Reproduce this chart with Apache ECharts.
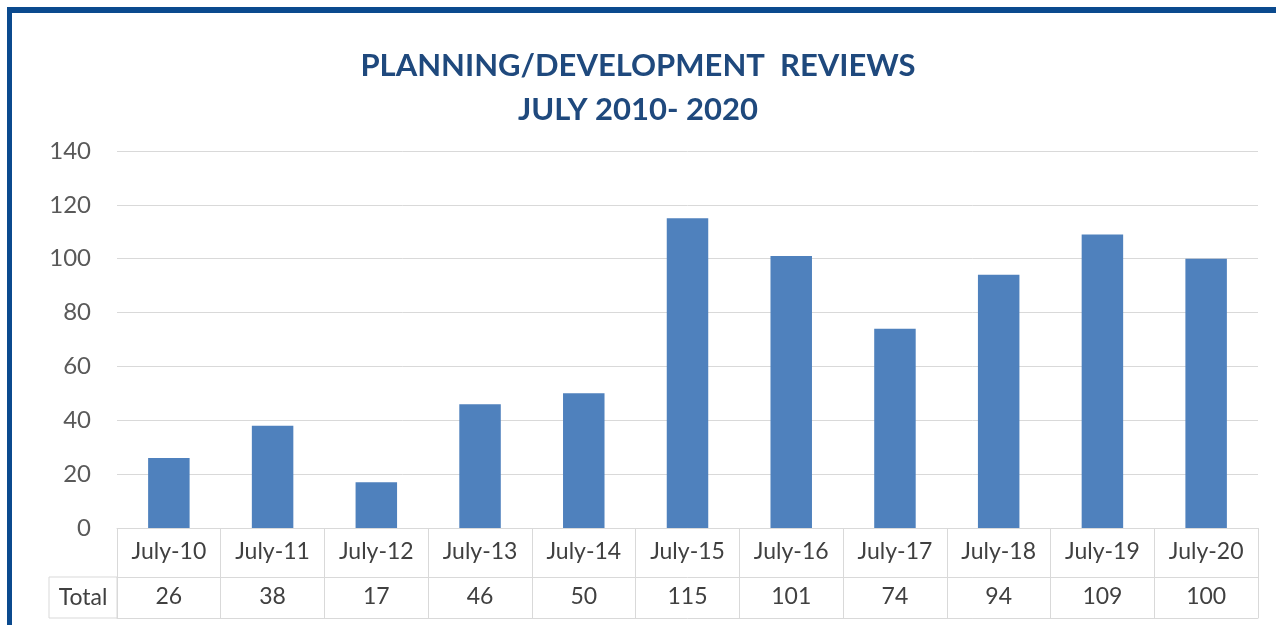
<!DOCTYPE html>
<html>
<head>
<meta charset="utf-8">
<script src="https://cdn.jsdelivr.net/npm/echarts@6/dist/echarts.min.js"></script>
<style>
  html, body { margin: 0; padding: 0; background: #fff; }
  #wrap { position: relative; width: 1276px; height: 625px; overflow: hidden; }
  #chart { position: absolute; left: 0; top: 0; width: 1276px; height: 625px; }
  #frame { position: absolute; left: 7px; top: 7px; width: 1400px; height: 800px;
           border-top: 6px solid #0b4a8e; border-left: 5px solid #0b4a8e; pointer-events: none; }
</style>
</head>
<body>
<div id="wrap"><div id="chart"></div><div id="frame"></div></div>
<script>
const categories = ['July-10','July-11','July-12','July-13','July-14','July-15','July-16','July-17','July-18','July-19','July-20'];
const totals = [26, 38, 17, 46, 50, 115, 101, 74, 94, 109, 100];
const yTicks = { min: 0, max: 140, interval: 20 };
const titleLines = ['PLANNING/DEVELOPMENT  REVIEWS', 'JULY 2010- 2020'];
const rowLabel = 'Total';

const FONT = 'Lato';
const GRID_LINE = '#d9d9d9';
const TEXT = '#404040';

const chart = echarts.init(document.getElementById('chart'), null, { renderer: 'canvas' });
const option = {
  animation: false,
  backgroundColor: '#ffffff',
  title: {
    text: titleLines.join('\n'),
    left: 'center',
    top: 39,
    textStyle: { fontFamily: FONT, fontWeight: 'bold', fontSize: 31, lineHeight: 44, color: '#1F497D' }
  },
  grid: { left: 117, right: 18, top: 151, bottom: 97, containLabel: false },
  xAxis: [
    {
      type: 'category', data: categories, position: 'bottom',
      axisLine: { show: true, lineStyle: { color: GRID_LINE, width: 1 } },
      axisTick: { show: true, length: 49, lineStyle: { color: GRID_LINE } },
      axisLabel: { fontFamily: FONT, fontSize: 23, color: TEXT, margin: 12 }
    },
    {
      type: 'category', data: totals.map(String), position: 'bottom', offset: 49,
      axisLine: { show: true, lineStyle: { color: GRID_LINE, width: 1 } },
      axisTick: { show: true, length: 41, lineStyle: { color: GRID_LINE } },
      axisLabel: { fontFamily: FONT, fontSize: 23, color: TEXT, margin: 8 }
    },
    {
      type: 'category', data: categories, position: 'bottom', offset: 90,
      axisLine: { show: true, lineStyle: { color: GRID_LINE, width: 1 } },
      axisTick: { show: false }, axisLabel: { show: false }
    }
  ],
  yAxis: {
    type: 'value', min: yTicks.min, max: yTicks.max, interval: yTicks.interval,
    axisLine: { show: false }, axisTick: { show: false },
    axisLabel: { fontFamily: FONT, fontSize: 24, color: '#595959', margin: 26 },
    splitLine: { lineStyle: { color: GRID_LINE, width: 1 } }
  },
  series: [{
    type: 'bar', data: totals, xAxisIndex: 0, barWidth: '40%',
    itemStyle: { color: '#4F81BD' }
  }]
};
chart.setOption(option);

// "Total" row header cell, to the left of the table
const gl = 117, rowTop = 625 - 97 + 49, rowBot = 625 - 97 + 90;
chart.setOption({
  graphic: [
    { type: 'rect', shape: { x: 49, y: rowTop, width: gl - 49, height: rowBot - rowTop },
      style: { fill: 'none', stroke: GRID_LINE, lineWidth: 1 } },
    { type: 'text', x: (49 + gl) / 2, y: (rowTop + rowBot) / 2,
      style: { text: rowLabel, font: '23px ' + FONT, fill: TEXT, align: 'center', verticalAlign: 'middle' } }
  ]
});
</script>
</body>
</html>
